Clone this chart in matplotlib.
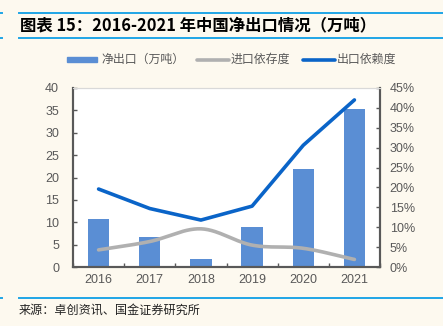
import numpy as np
import matplotlib
matplotlib.use("Agg")
import matplotlib.pyplot as plt
from matplotlib.lines import Line2D
from matplotlib.patches import Rectangle

plt.rcParams['font.family'] = ['Liberation Sans', 'Noto Sans CJK SC', 'DejaVu Sans']

years = ['2016', '2017', '2018', '2019', '2020', '2021']
net_export = [10.7, 6.8, 1.8, 8.9, 21.9, 35.3]           # 万吨
import_dep = [4.3, 6.4, 9.6, 5.5, 4.7, 1.9]               # %
export_dep = [19.6, 14.7, 11.8, 15.3, 30.6, 42.0]         # %

labels = ['净出口（万吨）', '进口依存度', '出口依赖度']
title = '图表 15：2016-2021 年中国净出口情况（万吨）'
source = '来源：卓创资讯、国金证券研究所'

BG = '#FDF9EF'
BAR = '#5A8ED4'
GRAY = '#B0B0B0'
BLUE = '#0A64C8'
AX = '#595959'
TXT = '#595959'
RULE = '#1FA5E6'

W, H = 443, 326
fig = plt.figure(figsize=(W / 100, H / 100), dpi=100, facecolor=BG)

def fx(px): return px / W
def fy(py): return 1 - py / H

L, R, T, B = 73, 380, 88, 267
ax = fig.add_axes([fx(L), fy(B), fx(R) - fx(L), fy(T) - fy(B)])
ax.set_facecolor('white')
ax2 = ax.twinx()

x = np.arange(len(years))
ax.bar(x, net_export, width=0.42, color=BAR, zorder=2)
ax.set_xlim(-0.5, len(years) - 0.5)
ax.set_ylim(0, 40)
ax.set_yticks(np.arange(0, 41, 5))
ax.set_xticks(x)
ax.set_xticklabels(years)
ax.set_xticks(np.arange(-0.5, len(years), 1), minor=True)
ax.tick_params(axis='x', which='major', length=0, colors=TXT, labelsize=9, pad=5)
ax.tick_params(axis='x', which='minor', length=3, direction='in', color=AX, width=1)
ax.tick_params(axis='y', length=3, direction='in', colors=TXT, labelsize=9, color=AX, width=1, pad=10)

def smooth(xs, ys, n=30):
    xs = np.asarray(xs, float); ys = np.asarray(ys, float)
    P = np.column_stack([xs, ys])
    P = np.vstack([P[0] - (P[1] - P[0]), P, P[-1] + (P[-1] - P[-2])])
    out = []
    for i in range(1, len(P) - 2):
        p0, p1, p2, p3 = P[i - 1], P[i], P[i + 1], P[i + 2]
        t = np.linspace(0, 1, n)[:, None]
        seg = 0.5 * ((2 * p1) + (-p0 + p2) * t + (2 * p0 - 5 * p1 + 4 * p2 - p3) * t ** 2
                     + (-p0 + 3 * p1 - 3 * p2 + p3) * t ** 3)
        out.append(seg if i == 1 else seg[1:])
    S = np.vstack(out)
    return S[:, 0], S[:, 1]

sx, sy = smooth(x, import_dep)
ax2.plot(sx, sy, color=GRAY, lw=2.6, solid_capstyle='round', zorder=3)
ax2.plot(x, export_dep, color=BLUE, lw=2.6, solid_capstyle='round', solid_joinstyle='round', zorder=4)
ax2.set_ylim(0, 45)
ax2.set_yticks(np.arange(0, 46, 5))
ax2.set_yticklabels([f'{v}%' for v in range(0, 46, 5)])
ax2.tick_params(axis='y', length=3, direction='in', colors=TXT, labelsize=9, color=AX, width=1, pad=7)

for a in (ax, ax2):
    for s in ('left', 'right', 'bottom'):
        a.spines[s].set_color(AX)
        a.spines[s].set_linewidth(1.5)
    a.spines['top'].set_color('#D9D9D9')
    a.spines['top'].set_linewidth(0.8)

# Title rules
for yy in (13, 38):
    fig.add_artist(Line2D([fx(19), 1], [fy(yy), fy(yy)], color=RULE, lw=1.4))
    fig.add_artist(Line2D([0, fx(2)], [fy(yy), fy(yy)], color=RULE, lw=1.4))
fig.text(fx(20), fy(25.5), title, fontsize=11.8, fontweight='bold', style='italic',
         family=['Noto Sans CJK SC', 'DejaVu Sans'], color='black', va='center', ha='left')

# Legend (manual)
ly = fy(59.5)
fig.add_artist(Rectangle((fx(67), fy(62)), fx(97) - fx(67), fy(57) - fy(62), color=BAR))
fig.text(fx(101), ly, labels[0], fontsize=8.6, color=TXT, va='center', ha='left',
         family=['Noto Sans CJK SC', 'DejaVu Sans'])
fig.add_artist(Line2D([fx(197), fx(229)], [ly, ly], color=GRAY, lw=2.6, solid_capstyle='round'))
fig.text(fx(231), ly, labels[1], fontsize=8.6, color=TXT, va='center', ha='left',
         family=['Noto Sans CJK SC', 'DejaVu Sans'])
fig.add_artist(Line2D([fx(303), fx(335)], [ly, ly], color=BLUE, lw=2.6, solid_capstyle='round'))
fig.text(fx(337), ly, labels[2], fontsize=8.6, color=TXT, va='center', ha='left',
         family=['Noto Sans CJK SC', 'DejaVu Sans'])

# Source rule and text
fig.add_artist(Line2D([fx(19), 1], [fy(298), fy(298)], color=RULE, lw=1.4))
fig.add_artist(Line2D([0, fx(2)], [fy(298), fy(298)], color=RULE, lw=1.4))
fig.text(fx(19), fy(310), source, fontsize=8.7, color='#222222', va='center', ha='left',
         family=['Noto Sans CJK SC', 'DejaVu Sans'])

fig.savefig('out.png', dpi=100, facecolor=BG)
